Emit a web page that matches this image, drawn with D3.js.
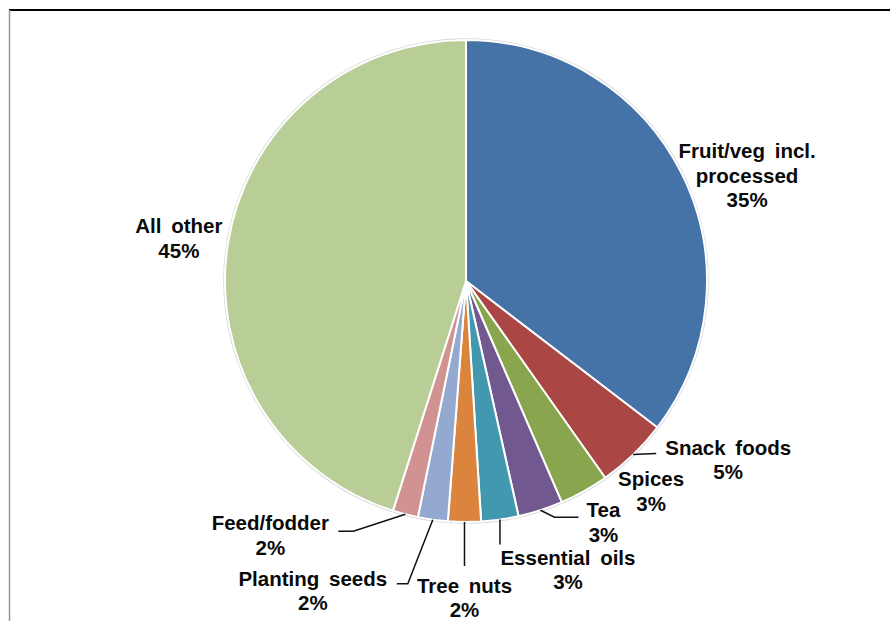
<!DOCTYPE html>
<html>
<head>
<meta charset="utf-8">
<script src="https://cdn.jsdelivr.net/npm/d3@7"></script>
<style>
  body { margin: 0; background: #fff; }
  svg { display: block; }
  text { font-family: "Liberation Sans", Arial, sans-serif; font-weight: bold; font-size: 20.5px; word-spacing: 4px; fill: #0a0a0a; }
</style>
</head>
<body>
<div id="chart"></div>
<script>
// slices, clockwise from 12 o'clock
const categories = ["Fruit/veg incl. processed", "Snack foods", "Spices", "Tea", "Essential oils",
  "Tree nuts", "Planting seeds", "Feed/fodder", "All other"];
const shares = [35.4, 4.8, 3.3, 3.0, 2.5, 2.2, 2.0, 1.7, 45.1];
const labelLines = [["Fruit/veg incl.", "processed"], ["Snack foods"], ["Spices"], ["Tea"], ["Essential oils"],
  ["Tree nuts"], ["Planting seeds"], ["Feed/fodder"], ["All other"]];
const colors = ["#4572A7", "#AA4643", "#89A54E", "#71588F", "#4198AF", "#DB843D", "#93A9CF", "#D19392", "#B9CD96"];

// label placement relative to the rim midpoint of each slice
const labelLayout = [
  { dx: 65, dy: -16, leader: null },
  { dx: 95, dy: 0, leader: [[23, -1]] },
  { dx: 67, dy: -5, leader: null },
  { dx: 63, dy: 7, leader: [[14, 7], [38, 7]] },
  { dx: 68, dy: 45, leader: [[0, 25]] },
  { dx: 0, dy: 71, leader: [[0, 44]] },
  { dx: -120, dy: 66, leader: [[-25, 64], [-36, 64]] },
  { dx: -135, dy: 16, leader: [[-52, 17], [-67, 17]] },
  { dx: -49, dy: -11, leader: null }
];

const width = 890, height = 621;
const cx = 466, cy = 281, radius = 241;

const svg = d3.select("#chart").append("svg")
  .attr("width", width)
  .attr("height", height);

// frame lines
svg.append("line").attr("x1", 9).attr("x2", width).attr("y1", 10).attr("y2", 10)
  .attr("stroke", "#000").attr("stroke-width", 2);
svg.append("line").attr("x1", 9.5).attr("x2", 9.5).attr("y1", 10).attr("y2", height)
  .attr("stroke", "#999").attr("stroke-width", 1.5);

const data = categories.map((c, i) => ({ name: c, value: shares[i], lines: labelLines[i], color: colors[i], layout: labelLayout[i] }));

const pie = d3.pie().sort(null).value(d => d.value);
const arcs = pie(data);

const arc = d3.arc().innerRadius(0).outerRadius(radius);
const rim = d3.arc().innerRadius(radius).outerRadius(radius);

const g = svg.append("g").attr("transform", `translate(${cx},${cy})`);

// faint outline round the pie
g.append("circle").attr("r", radius + 1)
  .attr("fill", "none").attr("stroke", "#d8d8d8").attr("stroke-width", 1.5);

g.selectAll("path.slice")
  .data(arcs)
  .enter().append("path")
  .attr("class", "slice")
  .attr("d", arc)
  .attr("fill", d => d.data.color)
  .attr("stroke", "#fff")
  .attr("stroke-width", 2)
  .attr("stroke-linejoin", "round");

// leader lines
arcs.forEach(d => {
  const lay = d.data.layout;
  if (!lay.leader) return;
  const p = rim.centroid(d);
  const pts = [p].concat(lay.leader.map(q => [p[0] + q[0], p[1] + q[1]]));
  g.append("path")
    .attr("d", d3.line()(pts))
    .attr("fill", "none")
    .attr("stroke", "#111")
    .attr("stroke-width", 1.5);
});

// labels
const labels = g.selectAll("text.label")
  .data(arcs)
  .enter().append("text")
  .attr("class", "label")
  .attr("text-anchor", "middle")
  .attr("transform", d => {
    const p = rim.centroid(d);
    return `translate(${p[0] + d.data.layout.dx},${p[1] + d.data.layout.dy})`;
  });

labels.each(function(d) {
  const t = d3.select(this);
  const lines = d.data.lines.concat([Math.round(d.data.value) + "%"]);
  lines.forEach((l, i) => {
    t.append("tspan").attr("x", 0).attr("y", i * 24.5).text(l);
  });
});
</script>
</body>
</html>
